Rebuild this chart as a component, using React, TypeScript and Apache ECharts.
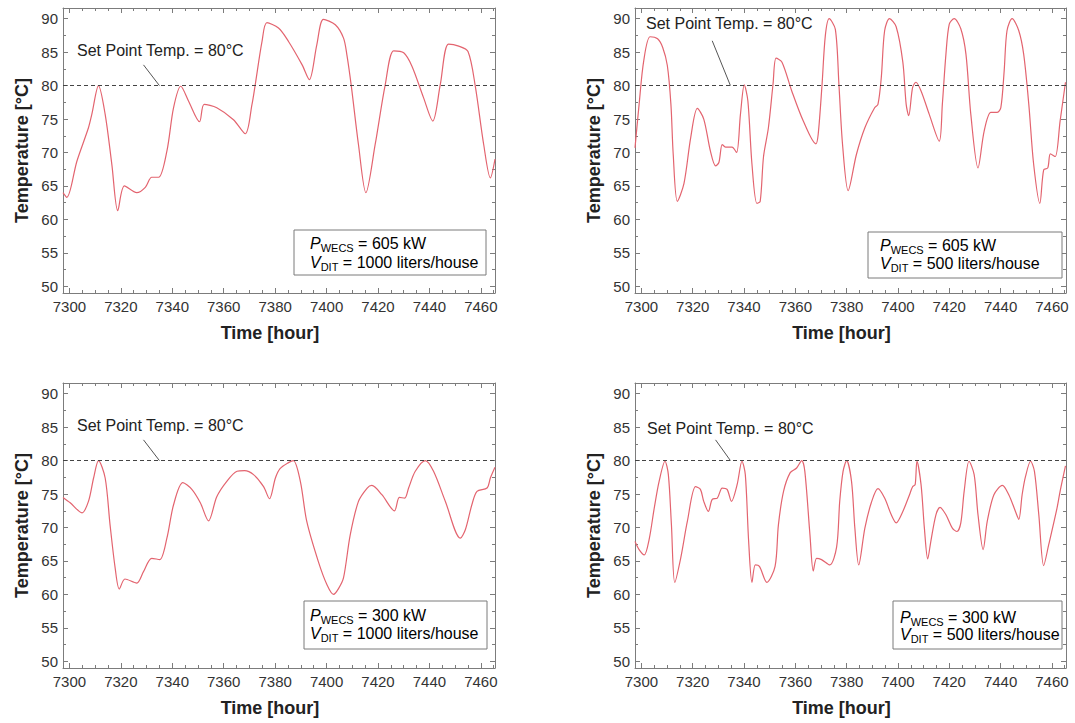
import React, { useEffect, useRef } from "react";
import * as echarts from "echarts";

// ---------- axis / reference values ----------
const X_MIN = 7297.5;
const X_MAX = 7465.5;
const Y_MIN = 49;
const Y_MAX = 91.6;
const xLabelValues = [7300, 7320, 7340, 7360, 7380, 7400, 7420, 7440, 7460];
const xMinorValues = [
  7300, 7305, 7310, 7315, 7320, 7325, 7330, 7335, 7340, 7345, 7350, 7355, 7360, 7365,
  7370, 7375, 7380, 7385, 7390, 7395, 7400, 7405, 7410, 7415, 7420, 7425, 7430, 7435,
  7440, 7445, 7450, 7455, 7460, 7465,
];
const yLabelValues = [50, 55, 60, 65, 70, 75, 80, 85, 90];
const yMinorValues = [
  50, 52.5, 55, 57.5, 60, 62.5, 65, 67.5, 70, 72.5, 75, 77.5, 80, 82.5, 85, 87.5, 90,
];
const setPointTemp = 80;

// ---------- series data: [hour, temperature °C] ----------
const temp605kW1000L = [
  [7297.5, 64.0], [7299.0, 63.3], [7302.9, 68.7], [7307.4, 73.7], [7308.7, 75.7],
  [7311.3, 80.0], [7313.9, 75.7], [7316.5, 68.2], [7318.8, 61.3], [7321.4, 65.0],
  [7326.2, 64.0], [7329.5, 64.8], [7332.0, 66.3], [7334.7, 66.3], [7337.9, 70.2],
  [7340.5, 76.7], [7343.3, 79.9], [7346.3, 77.7], [7350.6, 74.6], [7352.4, 77.2],
  [7357.3, 76.7], [7363.8, 74.9], [7368.4, 72.8], [7371.0, 77.2], [7372.2, 80.0],
  [7374.9, 86.6], [7376.8, 89.4], [7381.3, 88.6], [7385.2, 86.6], [7390.5, 83.1],
  [7393.3, 80.9], [7396.2, 86.1], [7398.8, 89.9], [7403.4, 89.1], [7406.6, 87.1],
  [7407.9, 84.6], [7409.6, 80.0], [7412.4, 71.2], [7415.3, 64.0], [7418.9, 71.2],
  [7422.8, 80.1], [7426.1, 85.2], [7430.0, 84.9], [7433.2, 82.9], [7437.7, 78.2],
  [7441.3, 74.7], [7444.2, 80.1], [7447.4, 86.2], [7451.4, 85.9], [7455.0, 85.1],
  [7457.8, 80.0], [7461.1, 71.2], [7463.7, 66.2], [7465.5, 69.0],
];

const temp605kW500L = [
  [7297.5, 70.7], [7299.1, 77.2], [7300.9, 83.7], [7303.4, 87.3], [7306.3, 87.0],
  [7308.3, 85.7], [7310.1, 83.0], [7311.5, 77.2], [7312.4, 69.7], [7314.0, 62.7],
  [7316.6, 65.4], [7319.2, 72.2], [7321.8, 76.6], [7324.3, 75.0], [7326.9, 70.2],
  [7328.9, 68.0], [7330.2, 68.5], [7331.5, 71.2], [7332.8, 70.8], [7335.3, 70.8],
  [7337.1, 70.0], [7338.6, 75.7], [7340.1, 80.1], [7341.5, 77.7], [7343.1, 68.2],
  [7345.0, 62.4], [7346.3, 62.7], [7347.6, 69.4], [7349.5, 73.7], [7351.3, 80.2],
  [7352.5, 84.1], [7354.8, 83.5], [7358.6, 79.2], [7363.1, 74.7], [7368.0, 71.3],
  [7368.9, 72.7], [7370.4, 80.1], [7371.7, 87.5], [7373.2, 90.0], [7375.6, 88.4],
  [7377.0, 80.1], [7378.4, 71.2], [7380.6, 64.3], [7383.8, 69.7], [7387.1, 73.7],
  [7390.9, 76.7], [7392.2, 77.2], [7393.5, 81.2], [7394.8, 88.2], [7396.7, 90.0],
  [7399.3, 88.8], [7401.9, 83.5], [7403.2, 77.2], [7404.2, 75.5], [7405.7, 79.7],
  [7407.0, 80.5], [7409.0, 79.2], [7412.2, 75.7], [7416.1, 71.7], [7417.3, 77.2],
  [7418.7, 84.7], [7420.0, 89.2], [7421.9, 90.0], [7424.5, 88.5], [7426.5, 84.7],
  [7428.4, 75.7], [7431.2, 67.7], [7433.6, 73.2], [7436.2, 76.0], [7438.7, 76.0],
  [7440.1, 76.7], [7441.4, 82.2], [7442.5, 88.2], [7444.5, 90.0], [7447.1, 88.2],
  [7449.0, 84.7], [7451.0, 77.2], [7452.9, 68.2], [7455.3, 62.4], [7456.8, 67.4],
  [7458.4, 67.7], [7459.4, 69.8], [7461.3, 69.4], [7463.2, 74.7], [7465.3, 80.5],
];

const temp300kW1000L = [
  [7297.5, 74.5], [7300.3, 73.7], [7304.9, 72.2], [7307.4, 73.9], [7309.4, 77.4],
  [7311.3, 80.0], [7313.9, 77.4], [7315.8, 70.4], [7317.8, 63.9], [7319.4, 60.8],
  [7321.6, 62.3], [7326.2, 61.7], [7328.8, 63.4], [7332.0, 65.4], [7335.1, 65.2],
  [7337.9, 68.4], [7340.5, 73.4], [7344.1, 76.7], [7347.6, 75.7], [7350.9, 73.7],
  [7354.1, 71.0], [7357.3, 74.6], [7361.2, 76.9], [7365.2, 78.4], [7368.1, 78.5],
  [7371.6, 77.9], [7375.5, 76.1], [7377.8, 74.3], [7380.1, 77.4], [7381.9, 78.8],
  [7385.2, 79.7], [7387.1, 80.0], [7389.8, 76.9], [7392.3, 70.9], [7396.8, 64.9],
  [7400.2, 61.4], [7402.7, 60.0], [7404.7, 60.9], [7406.6, 62.5], [7409.2, 68.9],
  [7412.4, 73.9], [7415.8, 75.9], [7417.6, 76.3], [7421.5, 74.9], [7426.4, 72.5],
  [7428.3, 74.5], [7430.4, 74.4], [7431.9, 75.9], [7434.5, 78.4], [7438.4, 80.0],
  [7441.6, 78.4], [7446.2, 73.9], [7452.0, 68.4], [7454.0, 69.7], [7456.5, 73.4],
  [7458.5, 75.4], [7462.4, 75.9], [7463.7, 77.4], [7465.5, 79.0],
];

const temp300kW500L = [
  [7297.5, 67.9], [7299.1, 66.7], [7301.1, 65.9], [7303.0, 68.2], [7305.0, 72.9],
  [7306.9, 76.9], [7309.2, 79.9], [7310.5, 77.9], [7311.7, 70.4], [7313.0, 61.8],
  [7315.3, 65.4], [7317.9, 70.9], [7321.1, 76.1], [7323.0, 75.7], [7324.3, 73.9],
  [7326.1, 72.4], [7327.6, 74.2], [7329.6, 74.4], [7331.5, 75.9], [7333.4, 75.7],
  [7335.1, 73.9], [7337.3, 76.4], [7339.2, 79.9], [7340.5, 77.9], [7341.8, 67.9],
  [7343.1, 61.8], [7344.4, 64.4], [7346.0, 64.2], [7348.9, 61.8], [7352.1, 64.2],
  [7353.4, 70.4], [7355.4, 75.4], [7358.0, 78.2], [7360.5, 78.9], [7362.5, 80.0],
  [7363.7, 78.4], [7365.7, 68.9], [7367.0, 63.5], [7368.3, 65.4], [7370.2, 65.2],
  [7373.4, 64.4], [7376.1, 67.1], [7377.3, 73.9], [7378.6, 78.4], [7380.0, 80.0],
  [7381.9, 76.9], [7383.2, 69.9], [7384.7, 64.4], [7387.1, 69.9], [7389.6, 73.7],
  [7392.2, 75.8], [7394.8, 74.4], [7397.4, 71.9], [7399.3, 70.7], [7401.9, 72.4],
  [7404.5, 74.9], [7405.7, 76.1], [7406.7, 76.4], [7407.4, 79.9], [7409.0, 76.4],
  [7410.3, 69.9], [7411.6, 65.3], [7412.8, 67.9], [7414.8, 71.9], [7416.4, 73.0],
  [7418.7, 71.9], [7421.2, 69.9], [7423.0, 69.4], [7424.5, 70.7], [7425.8, 75.4],
  [7427.7, 79.9], [7429.7, 77.9], [7431.2, 71.9], [7433.2, 66.7], [7434.8, 70.9],
  [7437.4, 74.9], [7440.7, 76.3], [7443.2, 74.9], [7445.8, 72.4], [7447.1, 71.2],
  [7448.4, 74.9], [7449.7, 77.6], [7451.7, 79.9], [7453.2, 78.4], [7454.9, 71.9],
  [7456.8, 64.3], [7458.8, 67.5], [7462.0, 72.9], [7463.2, 75.4], [7465.3, 79.2],
];

// panel annotations
const panelPower = ["605", "605", "300", "300"];
const panelVolume = ["1000", "500", "1000", "500"];
const leaderLines = [
  [[7328.8, 83.1], [7335.0, 80.0]],
  [[7327.6, 86.7], [7334.7, 80.0]],
  [[7328.8, 83.1], [7335.0, 80.0]],
  [[7328.9, 83.1], [7334.7, 80.0]],
];
const panelSeries = [temp605kW1000L, temp605kW500L, temp300kW1000L, temp300kW500L];

// ---------- layout / style ----------
const FONT = "'Liberation Sans', Arial, Helvetica, sans-serif";
const LINE_COLOR = "#e3646f";
const AXIS_COLOR = "#7c7c7c";
const TEXT_COLOR = "#333";

const gridBoxes = [
  { left: 63, top: 8, width: 432, height: 285 },
  { left: 635, top: 8, width: 431, height: 285 },
  { left: 63, top: 383, width: 432, height: 285 },
  { left: 635, top: 383, width: 431, height: 285 },
];
const setPointTextPos = [
  { x: 77, y: 50 },
  { x: 646, y: 23.5 },
  { x: 77, y: 425 },
  { x: 647, y: 428 },
];
const legendBoxes = [
  { x: 294, y: 230, w: 192, h: 45, tx: 310, y1: 243, y2: 262 },
  { x: 868, y: 232, w: 194, h: 46, tx: 880, y1: 245, y2: 263 },
  { x: 304, y: 601, w: 183, h: 48, tx: 310, y1: 615, y2: 633 },
  { x: 893, y: 601, w: 169, h: 48, tx: 900, y1: 617, y2: 634 },
];

const plainNumber = (v: number) => String(v);

function buildXAxes(g: number) {
  const base: any = {
    type: "value",
    gridIndex: g,
    min: X_MIN,
    max: X_MAX,
    splitLine: { show: false },
    axisLine: { show: true, onZero: false, lineStyle: { color: AXIS_COLOR, width: 1 } },
  };
  const tickStyle = { color: AXIS_COLOR, width: 1 };
  return [
    {
      ...base,
      position: "bottom",
      axisTick: { show: true, inside: true, length: 5, customValues: xLabelValues, lineStyle: tickStyle },
      axisLabel: {
        show: true,
        customValues: xLabelValues,
        formatter: plainNumber,
        margin: 6,
        fontSize: 15,
        color: TEXT_COLOR,
        fontFamily: FONT,
      },
      name: "Time [hour]",
      nameLocation: "middle",
      nameGap: 31,
      nameTextStyle: {
        fontSize: 18,
        fontWeight: "bold",
        color: "#222",
        fontFamily: FONT,
        padding: [0, 18, 0, 0],
      },
    },
    {
      ...base,
      position: "bottom",
      axisLine: { show: false, onZero: false },
      axisTick: { show: true, inside: true, length: 3, customValues: xMinorValues, lineStyle: tickStyle },
      axisLabel: { show: false },
    },
    {
      ...base,
      position: "top",
      axisTick: { show: true, inside: true, length: 5, customValues: xLabelValues, lineStyle: tickStyle },
      axisLabel: { show: false },
    },
    {
      ...base,
      position: "top",
      axisLine: { show: false, onZero: false },
      axisTick: { show: true, inside: true, length: 3, customValues: xMinorValues, lineStyle: tickStyle },
      axisLabel: { show: false },
    },
  ];
}

function buildYAxes(g: number) {
  const base: any = {
    type: "value",
    gridIndex: g,
    min: Y_MIN,
    max: Y_MAX,
    splitLine: { show: false },
    axisLine: { show: true, onZero: false, lineStyle: { color: AXIS_COLOR, width: 1 } },
  };
  const tickStyle = { color: AXIS_COLOR, width: 1 };
  return [
    {
      ...base,
      position: "left",
      axisTick: { show: true, inside: true, length: 5, customValues: yLabelValues, lineStyle: tickStyle },
      axisLabel: {
        show: true,
        customValues: yLabelValues,
        formatter: plainNumber,
        margin: 5,
        fontSize: 15,
        color: TEXT_COLOR,
        fontFamily: FONT,
      },
      name: "Temperature [°C]",
      nameLocation: "middle",
      nameGap: 32,
      nameRotate: 90,
      nameTextStyle: { fontSize: 18, fontWeight: "bold", color: "#222", fontFamily: FONT },
    },
    {
      ...base,
      position: "left",
      axisLine: { show: false, onZero: false },
      axisTick: { show: true, inside: true, length: 3, customValues: yMinorValues, lineStyle: tickStyle },
      axisLabel: { show: false },
    },
    {
      ...base,
      position: "right",
      axisTick: { show: true, inside: true, length: 5, customValues: yLabelValues, lineStyle: tickStyle },
      axisLabel: { show: false },
    },
    {
      ...base,
      position: "right",
      axisLine: { show: false, onZero: false },
      axisTick: { show: true, inside: true, length: 3, customValues: yMinorValues, lineStyle: tickStyle },
      axisLabel: { show: false },
    },
  ];
}

const richStyles = {
  n: { fontSize: 16, fontFamily: FONT, color: "#222", lineHeight: 20 },
  i: { fontSize: 16, fontFamily: FONT, color: "#222", lineHeight: 20, fontStyle: "italic" },
  s: { fontSize: 11, fontFamily: FONT, color: "#222", lineHeight: 10, verticalAlign: "bottom" },
};

function buildOption() {
  const grid = gridBoxes.map((b) => ({ ...b, containLabel: false }));
  const xAxis: any[] = [];
  const yAxis: any[] = [];
  const series: any[] = [];
  const graphic: any[] = [];

  for (let g = 0; g < 4; g++) {
    xAxis.push(...buildXAxes(g));
    yAxis.push(...buildYAxes(g));
    series.push({
      type: "line",
      xAxisIndex: 4 * g,
      yAxisIndex: 4 * g,
      data: panelSeries[g],
      showSymbol: false,
      symbol: "none",
      smooth: 0.3,
      clip: true,
      lineStyle: { color: LINE_COLOR, width: 1.2 },
      markLine: {
        silent: true,
        symbol: ["none", "none"],
        label: { show: false },
        lineStyle: { color: "#444", width: 1, type: [4, 3] },
        data: [
          { yAxis: setPointTemp, lineStyle: { color: "#444", width: 1, type: [4, 3] } },
          [
            { coord: leaderLines[g][0], lineStyle: { color: "#555", width: 1, type: "solid" } },
            { coord: leaderLines[g][1] },
          ],
        ],
      },
    });

    const sp = setPointTextPos[g];
    graphic.push({
      type: "text",
      x: sp.x,
      y: sp.y,
      silent: true,
      style: {
        text: `Set Point Temp. = ${setPointTemp}°C`,
        fontSize: 16,
        fontFamily: FONT,
        fill: "#222",
        verticalAlign: "middle",
        align: "left",
      },
    });

    const lb = legendBoxes[g];
    graphic.push({
      type: "rect",
      silent: true,
      shape: { x: lb.x, y: lb.y, width: lb.w, height: lb.h },
      style: { fill: "#fff", stroke: "#7a7a7a", lineWidth: 1 },
      z: 10,
    });
    graphic.push({
      type: "text",
      silent: true,
      x: lb.tx,
      y: lb.y1,
      z: 11,
      style: {
        text: `{i|P}{s|WECS}{n| = ${panelPower[g]} kW}`,
        rich: richStyles,
        verticalAlign: "middle",
        align: "left",
      },
    });
    graphic.push({
      type: "text",
      silent: true,
      x: lb.tx,
      y: lb.y2,
      z: 11,
      style: {
        text: `{i|V}{s|DIT}{n| = ${panelVolume[g]} liters/house}`,
        rich: richStyles,
        verticalAlign: "middle",
        align: "left",
      },
    });
  }

  return {
    animation: false,
    backgroundColor: "#ffffff",
    grid,
    xAxis,
    yAxis,
    series,
    graphic,
  };
}

export default function App() {
  const ref = useRef<HTMLDivElement>(null);
  useEffect(() => {
    if (!ref.current) return;
    const chart = echarts.init(ref.current, undefined, { renderer: "svg" });
    chart.setOption(buildOption() as any);
    return () => chart.dispose();
  }, []);
  return (
    <div
      ref={ref}
      style={{ position: "absolute", left: 0, top: 0, width: 1075, height: 723, background: "#fff" }}
    />
  );
}
